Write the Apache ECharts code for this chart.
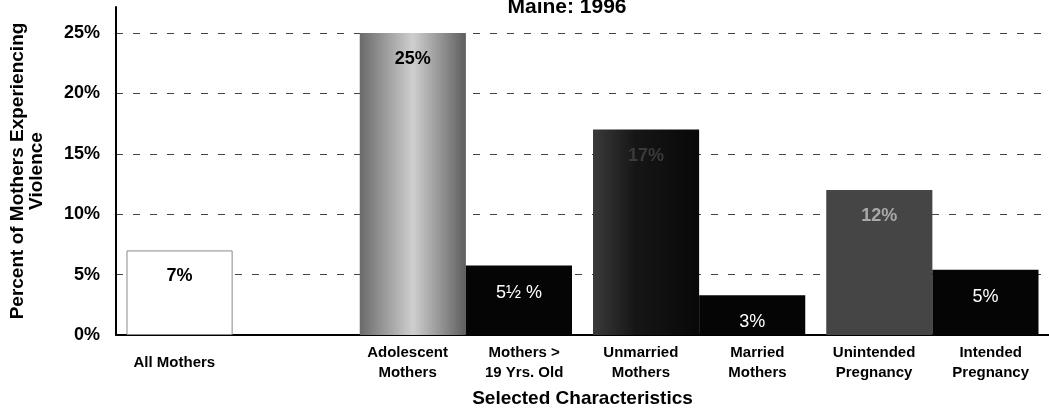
<!DOCTYPE html>
<html>
<head>
<meta charset="utf-8">
<script src="https://cdn.jsdelivr.net/npm/echarts@6/dist/echarts.min.js"></script>
<style>
  html, body { margin: 0; padding: 0; background: #fff; }
  #chart { width: 1049px; height: 413px; }
</style>
</head>
<body>
<div id="chart"></div>
<script>
// groups on the base axis, each holds up to two bars
const groupNames = ['All', 'Age', 'Marital Status', 'Pregnancy Intention'];
// one label per bar slot (two slots per group)
const slotLabels = ['All Mothers', '', 'Adolescent\nMothers', 'Mothers >\n19 Yrs. Old',
  'Unmarried\nMothers', 'Married\nMothers', 'Unintended\nPregnancy', 'Intended\nPregnancy'];
const firstValues = [7, 25, 17, 12];
const firstLabels = ['7%', '25%', '17%', '12%'];
const secondValues = [null, 5.75, 3.3, 5.4];
const secondLabels = ['', '5\u00bd %', '3%', '5%'];

const font = '"Liberation Sans", Arial, sans-serif';

const chart = echarts.init(document.getElementById('chart'));

// fills for the first bar of each group
const firstStyles = [
  { color: '#ffffff', borderColor: '#8a8a8a', borderWidth: 1 },
  {
    color: new echarts.graphic.LinearGradient(0, 0, 1, 0, [
      { offset: 0, color: '#6a6a6a' },
      { offset: 0.5, color: '#cfcfcf' },
      { offset: 1, color: '#5e5e5e' }
    ])
  },
  {
    color: new echarts.graphic.LinearGradient(0, 0, 1, 0, [
      { offset: 0, color: '#3a3a3a' },
      { offset: 0.4, color: '#161616' },
      { offset: 1, color: '#080808' }
    ])
  },
  { color: '#454545' }
];
const firstLabelStyles = [
  { color: '#000', fontWeight: 'bold' },
  { color: '#000', fontWeight: 'bold' },
  { color: '#3a3a3a', fontWeight: 'bold' },
  { color: '#a8a8a8', fontWeight: 'bold' }
];

const option = {
  animation: false,
  title: {
    text: 'Maine: 1996',
    left: 562,
    top: -8,
    textAlign: 'center',
    textStyle: { fontFamily: font, fontSize: 21, fontWeight: 'bold', color: '#000' }
  },
  grid: { left: 116, right: 0, top: 7, bottom: 76 },
  xAxis: [
    {
      type: 'category',
      data: groupNames,
      axisLine: { lineStyle: { color: '#000', width: 2 } },
      axisTick: { show: false },
      axisLabel: { show: false },
      name: 'Selected Characteristics',
      nameLocation: 'middle',
      nameGap: 54,
      nameTextStyle: { fontFamily: font, fontSize: 19, fontWeight: 'bold', color: '#000' }
    },
    {
      type: 'category',
      position: 'bottom',
      data: slotLabels,
      axisLine: { show: false },
      axisTick: { show: false },
      axisLabel: {
        margin: 28,
        verticalAlign: 'middle',
        lineHeight: 20,
        fontFamily: font,
        fontSize: 15,
        fontWeight: 'bold',
        color: '#000',
        interval: 0
      }
    }
  ],
  yAxis: {
    type: 'value',
    min: 0,
    max: 27.15,
    interval: 5,
    axisLine: { show: true, lineStyle: { color: '#000', width: 2 } },
    axisTick: { show: false },
    axisLabel: {
      formatter: '{value}%',
      margin: 16,
      showMaxLabel: false,
      fontFamily: font,
      fontSize: 18,
      fontWeight: 'bold',
      color: '#000'
    },
    splitLine: {
      show: true,
      showMinLine: false,
      showMaxLine: false,
      lineStyle: { color: '#444', type: [7, 10], width: 1 }
    },
    name: 'Percent of Mothers Experiencing\nViolence',
    nameLocation: 'middle',
    nameGap: 70,
    nameTextStyle: { fontFamily: font, fontSize: 19, fontWeight: 'bold', color: '#000', lineHeight: 19 }
  },
  series: [
    {
      type: 'bar',
      xAxisIndex: 0,
      barGap: '0%',
      barCategoryGap: '9%',
      data: firstValues.map((v, i) => ({
        value: v,
        itemStyle: firstStyles[i],
        label: Object.assign({ formatter: firstLabels[i] }, firstLabelStyles[i])
      })),
      label: {
        show: true,
        position: 'insideTop',
        distance: 17,
        fontFamily: font,
        fontSize: 18
      }
    },
    {
      type: 'bar',
      xAxisIndex: 0,
      barGap: '0%',
      barCategoryGap: '9%',
      itemStyle: { color: '#050505' },
      data: secondValues.map((v, i) => ({
        value: v,
        label: { formatter: secondLabels[i] }
      })),
      label: {
        show: true,
        position: 'insideTop',
        distance: 18,
        fontFamily: font,
        fontSize: 18,
        color: '#fff'
      }
    }
  ]
};

chart.setOption(option);
</script>
</body>
</html>
